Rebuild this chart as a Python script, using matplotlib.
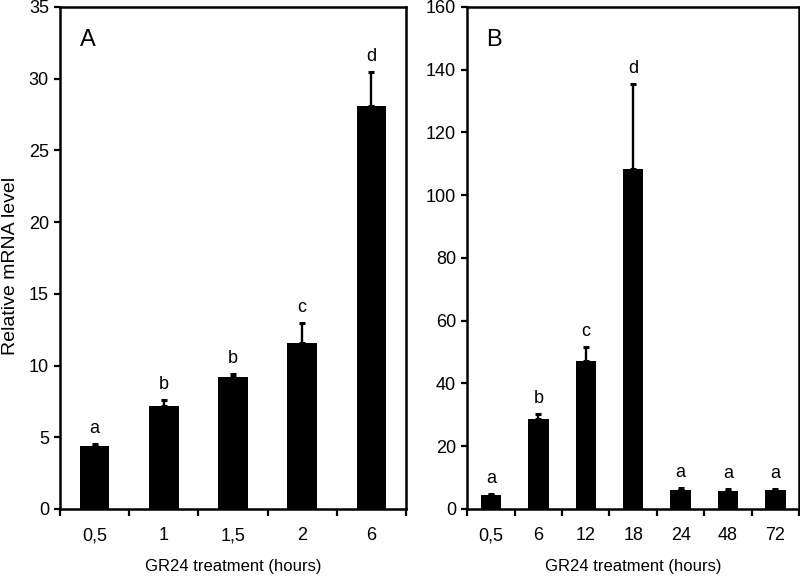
import numpy as np
import matplotlib
matplotlib.use('Agg')
import matplotlib.pyplot as plt

plt.rcParams['font.family'] = ['Liberation Sans Narrow', 'Liberation Sans', 'DejaVu Sans']
plt.rcParams['font.size'] = 13

# Panel A data
labels_a = ['0,5', '1', '1,5', '2', '6']
mean_a = [4.4, 7.2, 9.2, 11.6, 28.1]
err_a = [0.15, 0.4, 0.2, 1.35, 2.35]
letters_a = ['a', 'b', 'b', 'c', 'd']

# Panel B data
labels_b = ['0,5', '6', '12', '18', '24', '48', '72']
mean_b = [4.5, 28.6, 47.3, 108.4, 6.2, 5.8, 6.2]
err_b = [0.3, 1.7, 4.4, 27.1, 0.5, 0.5, 0.2]
letters_b = ['a', 'b', 'c', 'd', 'a', 'a', 'a']

fig = plt.figure(figsize=(8, 5.83), dpi=100)
axA = fig.add_axes([0.075, 0.127, 0.4325, 0.861])
axB = fig.add_axes([0.584, 0.127, 0.415, 0.861])


def panel(ax, labels, means, errs, letters, ymax, ystep, tag):
    n = len(labels)
    x = np.arange(n)
    ax.bar(x, means, width=0.43, color='black')
    ax.errorbar(x, means, yerr=[np.zeros(n), errs], fmt='none', ecolor='black',
                elinewidth=1.7, capsize=2.5, capthick=2.2)
    for xi, m, e, l in zip(x, means, errs, letters):
        ax.annotate(l, (xi, m + e), xytext=(0, 5), textcoords='offset points',
                    ha='center', va='bottom', fontsize=13)
    ax.set_xlim(-0.5, n - 0.5)
    ax.set_ylim(0, ymax)
    ax.set_yticks(np.arange(0, ymax + 1, ystep))
    ax.set_xticks(np.arange(n + 1) - 0.5)
    ax.set_xticklabels([])
    ax.set_xticks(x, labels=labels, minor=True)
    ax.tick_params(axis='x', which='major', direction='out', length=5, width=1.6)
    ax.tick_params(axis='x', which='minor', length=0, pad=13)
    ax.tick_params(axis='y', direction='out', length=4, width=1.6, pad=4)
    for s in ax.spines.values():
        s.set_linewidth(1.8)
    ax.set_xlabel('GR24 treatment (hours)', fontsize=12, labelpad=11)
    ax.text(0.08, 0.935, tag, transform=ax.transAxes, fontsize=17,
            ha='center', va='center')


panel(axA, labels_a, mean_a, err_a, letters_a, 35, 5, 'A')
panel(axB, labels_b, mean_b, err_b, letters_b, 160, 20, 'B')

fig.text(0.0135, 0.544, 'Relative mRNA level', rotation=90, fontsize=14,
         ha='center', va='center')

fig.savefig('out.png', dpi=100)
